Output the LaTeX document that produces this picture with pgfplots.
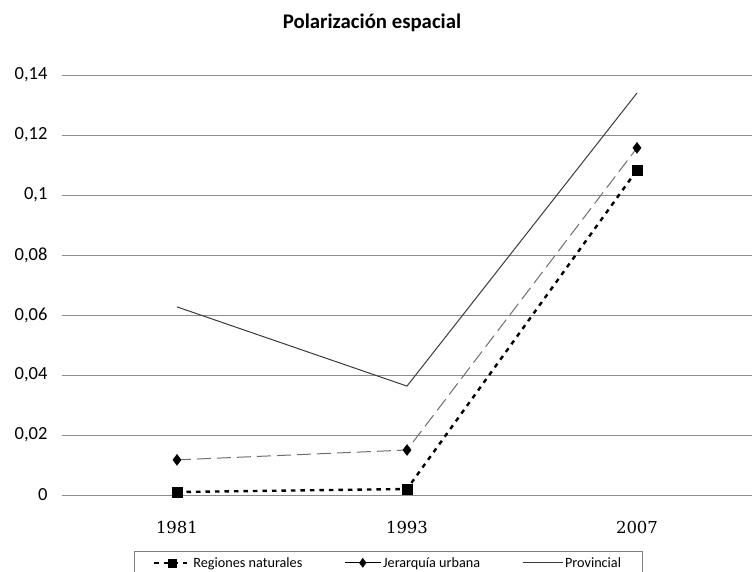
\documentclass[border=0pt]{standalone}
\usepackage{fontspec}
\setmainfont{Carlito}
\newfontfamily\serifnum{DejaVu Serif}
\usepackage{pgfplots}
\pgfplotsset{compat=1.18}
\definecolor{gridc}{HTML}{8C8C8C}
\definecolor{jerc}{HTML}{6E6E6E}
\definecolor{provc}{HTML}{3A3A3A}
\pgfplotsset{
  legA/.style={legend image code/.code={\draw[mark repeat=2,mark phase=2,##1, mark size=4pt]
    plot coordinates {(0pt,0pt) (18pt,0pt) (36pt,0pt)};}},
  legB/.style={legend image code/.code={\draw[mark repeat=2,mark phase=2,##1,solid,black, line width=0.8pt, mark size=4.5pt]
    plot coordinates {(0pt,0pt) (18pt,0pt) (36pt,0pt)};}},
  legC/.style={legend image code/.code={\draw[##1] (0pt,0pt) -- (40pt,0pt);}},
}
\begin{document}
\begin{tikzpicture}
\useasboundingbox (-62pt,-77pt) rectangle (690pt,495pt);
\begin{axis}[
  at={(0pt,0pt)}, anchor=south west,
  scale only axis, width=690pt, height=420pt,
  xmin=0.5, xmax=3.5, ymin=0, ymax=0.14,
  xtick={1,2,3}, xticklabels={1981,1993,2007},
  ytick={0,0.02,0.04,0.06,0.08,0.1,0.12,0.14},
  yticklabels={0,{0,02},{0,04},{0,06},{0,08},{0,1},{0,12},{0,14}},
  axis x line*=bottom, axis y line*=left,
  x axis line style={draw=gridc, line width=0.8pt, -},
  y axis line style={draw=none},
  major tick length=0pt,
  ymajorgrids, major grid style={draw=gridc, line width=0.8pt},
  tick label style={font=\fontsize{18.5}{20}\selectfont},
  xticklabel style={font=\fontsize{16.5}{20}\selectfont\serifnum, yshift=-23pt},
  yticklabel style={anchor=east, xshift=-11pt},
  clip=false,
  legend style={at={(0.4725,-0.133)}, anchor=north, legend columns=3,
    draw=gray, line width=0.6pt, font=\fontsize{14.2}{16}\selectfont,
    inner xsep=19pt, inner ysep=4pt,
    /tikz/every even column/.append style={column sep=40pt}},
  legend cell align=left,
]
\addplot[black, line width=2.4pt, dash pattern=on 4.5pt off 5pt,
  mark=square*, mark size=5pt, mark options={solid, line width=0.4pt}, legA]
  coordinates {(1,0.001) (2,0.002) (3,0.1083)};
\addlegendentry{Regiones naturales}
\addplot[jerc, line width=1pt, dash pattern=on 14pt off 6pt,
  mark=diamond*, mark size=5.5pt, mark options={solid, black, fill=black, line width=0.4pt}, legB]
  coordinates {(1,0.0117) (2,0.015) (3,0.1157)};
\addlegendentry{Jerarquía urbana}
\addplot[provc, line width=1pt, no marks, legC]
  coordinates {(1,0.0627) (2,0.0363) (3,0.134)};
\addlegendentry{Provincial}
\end{axis}
\node[font=\fontsize{20.8}{24}\selectfont\bfseries] at (310pt,472pt) {Polarización espacial};
\end{tikzpicture}
\end{document}
